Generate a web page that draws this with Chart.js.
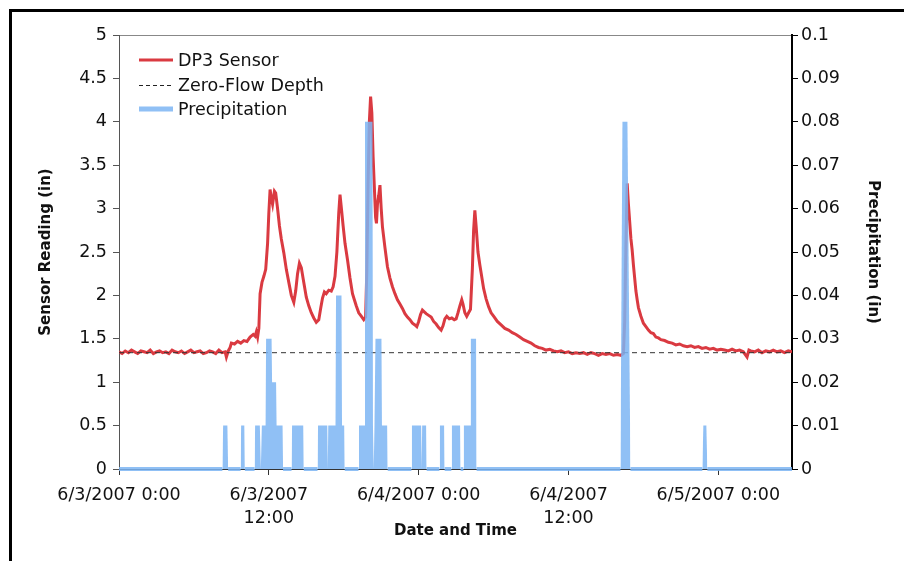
<!DOCTYPE html>
<html>
<head>
<meta charset="utf-8">
<script src="https://cdn.jsdelivr.net/npm/chart.js@4.4.1/dist/chart.umd.min.js"></script>
<style>
html,body{margin:0;padding:0;background:#fff;}
#wrap{position:relative;width:904px;height:561px;overflow:hidden;background:#fff;}
#c{position:absolute;left:0;top:0;}
#frame{position:absolute;left:9px;top:9px;right:-10px;bottom:-10px;border-left:3px solid #000;border-top:3px solid #000;pointer-events:none;}
.lg{position:absolute;left:139px;height:24px;font:17.5px "DejaVu Sans",Verdana,sans-serif;color:#111;white-space:nowrap;display:flex;align-items:center;}
.lg svg{margin-right:5px;}
</style>
</head>
<body>
<div id="wrap">
<canvas id="c" width="904" height="561"></canvas>
<div id="legend"></div>
<div id="frame"></div>
</div>
<script>
// ---- data (x = hours since 6/3/2007 0:00) ----
const xMaxHours = 53.9;
const zeroFlowDepth = 1.34;
const seriesNames = ['DP3 Sensor', 'Zero-Flow Depth', 'Precipitation'];
const xTickLabels = ['6/3/2007 0:00', ['6/3/2007', '12:00'], '6/4/2007 0:00', ['6/4/2007', '12:00'], '6/5/2007 0:00'];
const leftTickLabels = ['0', '0.5', '1', '1.5', '2', '2.5', '3', '3.5', '4', '4.5', '5'];
const rightTickLabels = ['0', '0.01', '0.02', '0.03', '0.04', '0.05', '0.06', '0.07', '0.08', '0.09', '0.1'];

// DP3 sensor reading (in): [hour, reading]
const sensorReadings = [
[0,1.35],[0.25,1.33],[0.5,1.36],[0.75,1.34],[1,1.37],[1.25,1.35],[1.5,1.33],[1.75,1.36],[2,1.35],[2.25,1.34],
[2.5,1.37],[2.75,1.33],[3,1.35],[3.25,1.36],[3.5,1.34],[3.75,1.35],[4,1.33],[4.25,1.37],[4.5,1.35],[4.75,1.34],
[5,1.36],[5.25,1.33],[5.5,1.35],[5.75,1.37],[6,1.34],[6.25,1.35],[6.5,1.36],[6.75,1.33],[7,1.34],[7.25,1.36],
[7.5,1.35],[7.75,1.33],[8,1.37],[8.25,1.34],[8.5,1.35],[8.6,1.29],[8.75,1.36],[8.9,1.40],[9,1.45],[9.25,1.44],
[9.5,1.47],[9.75,1.45],[10,1.48],[10.25,1.47],[10.5,1.52],[10.75,1.55],[10.9,1.53],[11,1.58],[11.1,1.52],[11.2,1.62],
[11.3,2.02],[11.45,2.15],[11.6,2.22],[11.75,2.3],[11.9,2.6],[12,2.95],[12.1,3.22],[12.2,3.12],[12.3,3.05],[12.45,3.2],
[12.55,3.18],[12.7,3.0],[12.85,2.8],[13,2.65],[13.2,2.49],[13.4,2.3],[13.6,2.15],[13.8,2.0],[14,1.92],[14.15,2.05],
[14.3,2.25],[14.45,2.37],[14.6,2.32],[14.8,2.15],[15,1.98],[15.2,1.88],[15.4,1.8],[15.6,1.74],[15.8,1.69],[16,1.72],
[16.15,1.85],[16.3,1.97],[16.45,2.04],[16.6,2.02],[16.8,2.06],[17,2.05],[17.15,2.1],[17.3,2.22],[17.45,2.5],[17.6,2.95],
[17.7,3.16],[17.8,3.02],[17.95,2.8],[18.1,2.6],[18.3,2.41],[18.5,2.2],[18.7,2.02],[18.85,1.95],[19,1.88],[19.2,1.8],
[19.4,1.76],[19.6,1.72],[19.75,1.75],[19.85,2.3],[19.95,3.3],[20.05,4.0],[20.15,4.29],[20.25,4.1],[20.35,3.6],[20.45,3.25],
[20.55,2.9],[20.62,2.83],[20.7,3.05],[20.8,3.15],[20.9,3.27],[21,3.0],[21.1,2.79],[21.3,2.55],[21.5,2.33],[21.7,2.2],
[21.9,2.1],[22.1,2.02],[22.3,1.95],[22.5,1.9],[22.7,1.85],[22.9,1.79],[23.1,1.75],[23.3,1.72],[23.5,1.68],[23.7,1.66],
[23.85,1.64],[24,1.7],[24.15,1.78],[24.3,1.83],[24.45,1.81],[24.6,1.79],[24.8,1.77],[25,1.75],[25.2,1.7],[25.4,1.67],
[25.6,1.63],[25.8,1.60],[25.95,1.65],[26.1,1.73],[26.25,1.76],[26.45,1.73],[26.65,1.74],[26.85,1.72],[27,1.73],[27.15,1.8],
[27.3,1.88],[27.45,1.95],[27.55,1.9],[27.7,1.8],[27.85,1.76],[28,1.8],[28.15,1.84],[28.3,2.3],[28.4,2.75],[28.5,2.98],
[28.6,2.8],[28.75,2.5],[28.9,2.35],[29,2.26],[29.2,2.08],[29.4,1.96],[29.6,1.87],[29.8,1.80],[30,1.76],[30.3,1.7],
[30.6,1.66],[30.9,1.62],[31.2,1.6],[31.5,1.57],[31.8,1.55],[32.1,1.52],[32.4,1.49],[32.7,1.47],[33,1.45],[33.3,1.42],
[33.6,1.40],[33.9,1.39],[34.2,1.37],[34.5,1.38],[34.8,1.36],[35.1,1.35],[35.4,1.36],[35.7,1.34],[36,1.35],[36.3,1.33],
[36.6,1.34],[36.9,1.33],[37.2,1.34],[37.5,1.32],[37.8,1.34],[38.1,1.33],[38.4,1.31],[38.7,1.33],[39,1.32],[39.3,1.33],
[39.6,1.31],[39.9,1.32],[40.2,1.31],[40.4,1.33],[40.5,1.7],[40.6,2.6],[40.7,3.29],[40.8,3.05],[40.9,2.85],[41,2.65],
[41.1,2.52],[41.2,2.35],[41.3,2.2],[41.4,2.05],[41.5,1.95],[41.6,1.86],[41.8,1.76],[42,1.68],[42.2,1.64],[42.4,1.6],
[42.6,1.57],[42.8,1.56],[43,1.52],[43.2,1.51],[43.4,1.49],[43.7,1.48],[44,1.46],[44.3,1.45],[44.6,1.43],[44.9,1.44],
[45.2,1.42],[45.5,1.41],[45.8,1.42],[46.1,1.40],[46.4,1.41],[46.7,1.39],[47,1.40],[47.3,1.38],[47.6,1.39],[47.9,1.37],
[48.2,1.38],[48.5,1.37],[48.8,1.36],[49.1,1.38],[49.4,1.36],[49.7,1.37],[50,1.35],[50.3,1.29],[50.45,1.37],[50.6,1.36],
[50.9,1.35],[51.2,1.37],[51.5,1.34],[51.8,1.36],[52.1,1.35],[52.4,1.37],[52.7,1.35],[53,1.36],[53.3,1.34],[53.6,1.36],
[53.9,1.35]
];

// Precipitation (in): [hour, amount]
const precipitation = [
[0,0],
[8.28,0],[8.34,0.01],[8.68,0.01],[8.74,0],
[9.74,0],[9.78,0.01],[10.04,0.01],[10.08,0],
[10.86,0],[10.9,0.01],[11.28,0.01],[11.36,0],[11.44,0.01],[11.74,0.01],[11.78,0.03],[12.22,0.03],[12.26,0.02],[12.58,0.02],[12.62,0.01],[13.1,0.01],[13.14,0],
[13.82,0],[13.86,0.01],[14.76,0.01],[14.8,0],
[15.9,0],[15.94,0.01],[16.68,0.01],[16.72,0],[16.76,0.01],[17.34,0.01],[17.38,0.04],[17.82,0.04],[17.86,0.01],[18.04,0.01],[18.08,0],
[19.18,0],[19.22,0.01],[19.66,0.01],[19.7,0.08],[20.3,0.08],[20.34,0.01],[20.4,0],[20.46,0.01],[20.54,0.03],[21.02,0.03],[21.06,0.01],[21.48,0.01],[21.52,0],
[23.42,0],[23.46,0.01],[24.2,0.01],[24.24,0],[24.28,0.01],[24.6,0.01],[24.64,0],
[25.66,0],[25.7,0.01],[26.04,0.01],[26.08,0],
[26.62,0],[26.66,0.01],[27.32,0.01],[27.36,0],
[27.58,0],[27.62,0.01],[28.14,0.01],[28.18,0.03],[28.6,0.03],[28.64,0],
[40.16,0],[40.32,0.08],[40.72,0.08],[40.96,0],
[46.72,0],[46.8,0.01],[47.04,0.01],[47.12,0],
[53.9,0]
];

// ---- styles ----
const FONT = '"DejaVu Sans", Verdana, sans-serif';
const RED = '#DA3A41';
const BLUE = 'rgba(124,181,243,0.85)';
const tickFont = {family: FONT, size: 17.5, lineHeight: 1.32};
const titleFont = {family: FONT, size: 15, weight: 'bold', lineHeight: 1.2};

const toXY = arr => arr.map(p => ({x: p[0], y: p[1]}));

const chart = new Chart(document.getElementById('c'), {
  type: 'line',
  data: {
    datasets: [
      {label: seriesNames[2], data: toXY(precipitation), yAxisID: 'yR', xAxisID: 'x',
       borderColor: BLUE, backgroundColor: BLUE, borderWidth: 4, pointRadius: 0, tension: 0,
       fill: 'origin',
       segment: {borderColor: c => (c.p0.parsed.y === 0 && c.p1.parsed.y === 0) ? BLUE : 'rgba(0,0,0,0)'},
       borderCapStyle: 'butt', clip: false, order: 0},
      {label: seriesNames[1], data: [{x: 0, y: zeroFlowDepth}, {x: xMaxHours, y: zeroFlowDepth}], yAxisID: 'yL', xAxisID: 'x',
       borderColor: '#333', backgroundColor: '#333', borderWidth: 1, borderDash: [5, 4], pointRadius: 0, order: 1},
      {label: seriesNames[0], data: toXY(sensorReadings), yAxisID: 'yL', xAxisID: 'x',
       borderColor: RED, backgroundColor: RED, borderWidth: 3, pointRadius: 0, tension: 0, order: 2}
    ]
  },
  options: {
    responsive: false,
    animation: false,
    events: [],
    layout: {padding: {top: 35, left: 0, right: 0, bottom: 0}},
    plugins: {legend: {display: false}, tooltip: {enabled: false}},
    scales: {
      x: {
        type: 'linear', position: 'bottom', min: 0, max: xMaxHours,
        afterFit: s => { s.height = 92; },
        ticks: {stepSize: 12, includeBounds: false, autoSkip: false, maxRotation: 0, minRotation: 0,
                padding: 9, color: '#111', font: tickFont,
                callback: v => xTickLabels[Math.round(v / 12)]},
        grid: {drawOnChartArea: false, drawTicks: true, tickLength: 6, color: '#333'},
        border: {display: true, color: '#333', width: 1},
        title: {display: true, text: 'Date and Time', color: '#111', font: titleFont, padding: {top: 0, bottom: 21}}
      },
      xTop: {
        type: 'linear', position: 'top', min: 0, max: xMaxHours,
        afterFit: s => { s.height = 0; },
        ticks: {display: false},
        grid: {drawOnChartArea: false, drawTicks: false},
        border: {display: true, color: '#888', width: 1}
      },
      yL: {
        type: 'linear', position: 'left', min: 0, max: 5,
        afterFit: s => { s.width = 119; },
        ticks: {stepSize: 0.5, padding: 6, color: '#111', font: tickFont,
                callback: (v, i) => leftTickLabels[i]},
        grid: {drawOnChartArea: false, tickLength: 6, color: '#555'},
        border: {display: true, color: '#555', width: 1},
        title: {display: true, text: 'Sensor Reading (in)', color: '#111', font: titleFont, padding: {top: 37, bottom: 0}}
      },
      yR: {
        type: 'linear', position: 'right', min: 0, max: 0.1,
        afterFit: s => { s.width = 112; },
        ticks: {stepSize: 0.01, padding: 3, color: '#111', font: tickFont,
                callback: (v, i) => rightTickLabels[i]},
        grid: {drawOnChartArea: false, tickLength: 6, color: '#000'},
        border: {display: true, color: '#000', width: 2},
        title: {display: true, text: 'Precipitation (in)', color: '#111', font: titleFont, padding: {top: 22, bottom: 0}}
      }
    }
  }
});

// ---- HTML legend from the series names ----
const legendRows = [
  {name: seriesNames[0], top: 48, svg: '<line x1="0" y1="6" x2="34" y2="6" stroke="' + RED + '" stroke-width="3"/>'},
  {name: seriesNames[1], top: 73, svg: '<line x1="0" y1="6.5" x2="34" y2="6.5" stroke="#222" stroke-width="1" stroke-dasharray="4,3"/>'},
  {name: seriesNames[2], top: 97, svg: '<line x1="0" y1="6" x2="34" y2="6" stroke="' + BLUE + '" stroke-width="5"/>'}
];
const lg = document.getElementById('legend');
legendRows.forEach(r => {
  const d = document.createElement('div');
  d.className = 'lg';
  d.style.top = r.top + 'px';
  d.innerHTML = '<svg width="34" height="12" viewBox="0 0 34 12">' + r.svg + '</svg><span>' + r.name + '</span>';
  lg.appendChild(d);
});
</script>
</body>
</html>
